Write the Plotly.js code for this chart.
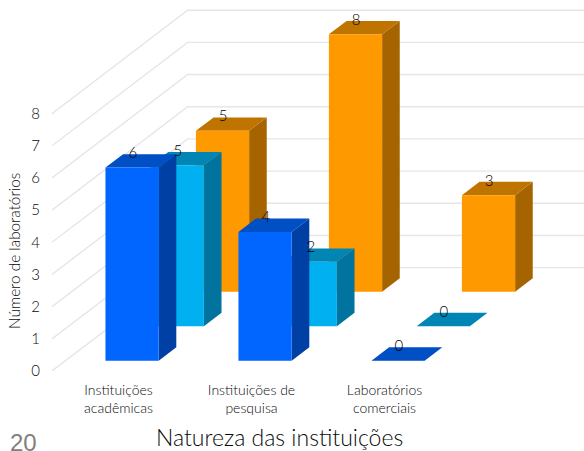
<!DOCTYPE html>
<html>
<head>
<meta charset="utf-8">
<script src="https://cdn.plot.ly/plotly-3.0.1.min.js"></script>
<style>html,body{margin:0;padding:0;background:#fff}#chart{width:584px;height:451px}</style>
</head>
<body>
<div id="chart"></div>
<script>
// Data
const categories = ["Instituições<br>acadêmicas", "Instituições de<br>pesquisa", "Laboratórios<br>comerciais"];
const academicas = [6, 4, 0];
const pesquisa = [5, 2, 0];
const comerciais = [5, 8, 3];
const yTicks = [0, 1, 2, 3, 4, 5, 6, 7, 8];

// Styles
const frontColors = ["#0066FF", "#00B0F0", "#FF9900"];
const sideColors = ["#003FA3", "#00749E", "#A66400"];
const topColors = ["#004FC4", "#0085B5", "#C07400"];
const seriesValues = [academicas, pesquisa, comerciais];
const textWeight = 300;
const textColor = "#0a0a0a";

// Oblique depth projection, in axis units per depth slot
const slotDx = 0.34, slotDy = 1.071;
const barFront = 0.3, barBack = 0.69, barHalf = 0.2;
const project = (x, v, d) => [x + d * slotDx, v + d * slotDy];

function poly(points) {
  const xs = [], ys = [];
  points.forEach(p => { xs.push(p[0]); ys.push(p[1]); });
  xs.push(points[0][0], null); ys.push(points[0][1], null);
  return [xs, ys];
}
function faceTrace(polys, color) {
  const x = [], y = [];
  polys.forEach(p => { const [a, b] = poly(p); x.push(...a); y.push(...b); });
  return {type: "scatter", mode: "none", x, y, fill: "toself", fillcolor: color, hoverinfo: "skip"};
}

const traces = [];
// Walls: gridlines run along the left wall, then across the back wall
const xLeft = -0.5, xRight = 3.5;
yTicks.forEach(v => {
  const back = project(xLeft, v, 3);
  traces.push({type: "scatter", mode: "lines", x: [xLeft, back[0], xRight], y: [v, back[1], back[1]],
    line: {color: "#E6E6E6", width: 1.4}, hoverinfo: "skip"});
});
// Bars back to front
[2, 1, 0].forEach(s => {
  const vals = seriesValues[s];
  const sides = [], tops = [], fronts = [];
  vals.forEach((val, i) => {
    const d0 = s + barFront, d1 = s + barBack, xl = i - barHalf, xr = i + barHalf;
    sides.push([project(xr, 0, d0), project(xr, 0, d1), project(xr, val, d1), project(xr, val, d0)]);
    tops.push([project(xl, val, d0), project(xr, val, d0), project(xr, val, d1), project(xl, val, d1)]);
    fronts.push([project(xl, 0, d0), project(xr, 0, d0), project(xr, val, d0), project(xl, val, d0)]);
  });
  traces.push(faceTrace(sides, sideColors[s]));
  traces.push(faceTrace(tops, topColors[s]));
  traces.push(faceTrace(fronts, frontColors[s]));
});
// Value labels, drawn over all of the bars
seriesValues.forEach((vals, s) => {
  const pts = vals.map((val, i) => {
    const front = project(i, val, s + barFront);
    const back = project(i, val, s + barBack);
    return [front[0] + 0.005, back[1]];
  });
  traces.push({type: "scatter", mode: "text", x: pts.map(p => p[0]), y: pts.map(p => p[1]),
    text: vals.map(String), textposition: "middle center",
    textfont: {family: "Lato", size: 15, weight: textWeight, color: "#000000"}, hoverinfo: "skip"});
});

const layout = {
  width: 584, height: 451,
  margin: {l: 52, r: 0, t: 0, b: 80, pad: 0},
  paper_bgcolor: "#fff", plot_bgcolor: "#fff",
  showlegend: false, hovermode: false,
  font: {family: "Lato", color: textColor},
  xaxis: {range: [xLeft, xRight], tickvals: [0, 1, 2], ticktext: categories, showgrid: false, zeroline: false,
    showline: false, ticks: "", ticklabelstandoff: 9, tickangle: 0,
    tickfont: {family: "Lato", size: 14, weight: textWeight, color: textColor}},
  yaxis: {range: [0, 11.53], tickvals: yTicks, showgrid: false, zeroline: false, showline: false, ticks: "",
    ticklabelstandoff: 11, tickfont: {family: "Lato", size: 15, weight: textWeight, color: textColor}},
  annotations: [
    {text: "Número de laboratórios", x: 14, y: 251, textangle: -90, showarrow: false,
     font: {family: "Lato", size: 15.3, weight: textWeight, color: textColor}},
    {text: "Natureza das instituições", x: 279.5, y: 437, showarrow: false,
     font: {family: "Lato", size: 23, weight: textWeight, color: textColor}},
    {text: "20", x: 23, y: 442, showarrow: false, font: {family: "Liberation Sans", size: 24, color: "#808080"}}
  ]
};
// Annotations placed in page pixels
layout.annotations.forEach(a => {
  a.xref = "paper"; a.yref = "paper";
  a.x = (a.x - 52) / 532; a.y = (371 - a.y) / 371;
  a.xanchor = "center"; a.yanchor = "middle";
});
Plotly.newPlot("chart", traces, layout, {displayModeBar: false, staticPlot: true});
</script>
</body>
</html>
